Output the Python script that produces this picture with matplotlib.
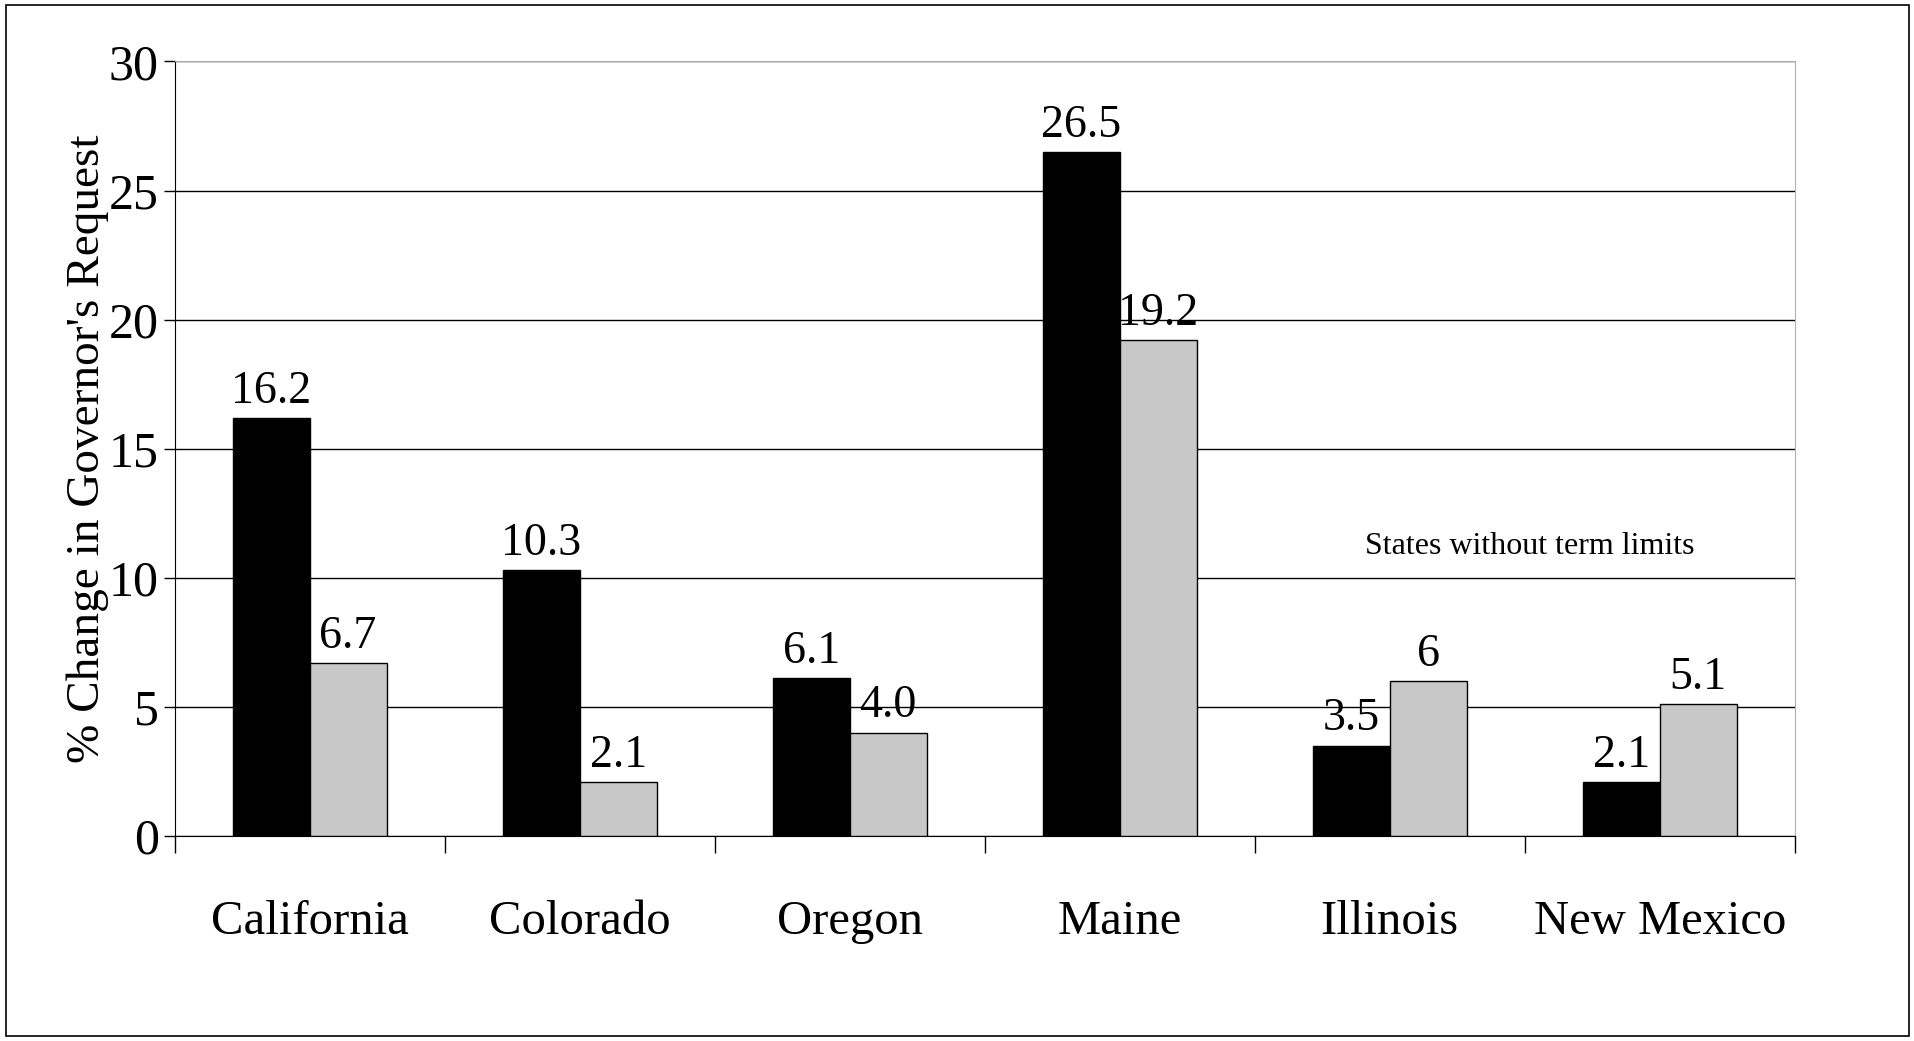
import matplotlib.pyplot as plt
import numpy as np
from matplotlib.patches import Rectangle

states = ['California', 'Colorado', 'Oregon', 'Maine', 'Illinois', 'New Mexico']
black_vals = [16.2, 10.3, 6.1, 26.5, 3.5, 2.1]
gray_vals = [6.7, 2.1, 4.0, 19.2, 6, 5.1]
black_labels = ['16.2', '10.3', '6.1', '26.5', '3.5', '2.1']
gray_labels = ['6.7', '2.1', '4.0', '19.2', '6', '5.1']

plt.rcParams['font.family'] = ['Liberation Serif', 'DejaVu Serif']

fig = plt.figure(figsize=(19.15, 10.41), dpi=100)
ax = fig.add_axes([0.0912, 0.197, 0.846, 0.744])
fig.patches.append(Rectangle((0.003, 0.005), 0.994, 0.99, transform=fig.transFigure,
                             fill=False, edgecolor='black', linewidth=1.2))

x = np.arange(len(states))
w = 0.285
ax.bar(x - w / 2, black_vals, w, color='black', edgecolor='black', linewidth=1, zorder=3)
ax.bar(x + w / 2, gray_vals, w, color='#c8c8c8', edgecolor='black', linewidth=1, zorder=3)

for i in x:
    ax.text(i - w / 2, black_vals[i] + 0.2, black_labels[i], ha='center', va='bottom', fontsize=33)
    ax.text(i + w / 2, gray_vals[i] + 0.2, gray_labels[i], ha='center', va='bottom', fontsize=33)

ax.set_xlim(-0.5, len(states) - 0.5)
ax.set_ylim(0, 30)
ax.set_yticks(range(0, 31, 5))
ax.tick_params(axis='y', labelsize=36, direction='out', length=8, width=1)
ax.yaxis.grid(True, color='black', linewidth=1)
ax.set_axisbelow(True)

ax.set_xticks(np.arange(-0.5, len(states), 1.0))
ax.set_xticklabels([])
ax.set_xticks(x, minor=True)
ax.set_xticklabels(states, minor=True, fontsize=35)
ax.tick_params(axis='x', which='major', direction='out', length=12, width=1)
ax.tick_params(axis='x', which='minor', length=0, pad=46)

ax.set_ylabel("% Change in Governor's Request", fontsize=34, labelpad=0)
ax.text(4.52, 11.2, 'States without term limits', ha='center', va='center', fontsize=23)

for s in ['top', 'right']:
    ax.spines[s].set_color('#b0b0b0')
ax.spines['left'].set_color('black')
ax.spines['bottom'].set_color('black')

fig.savefig('out.png', dpi=100)
